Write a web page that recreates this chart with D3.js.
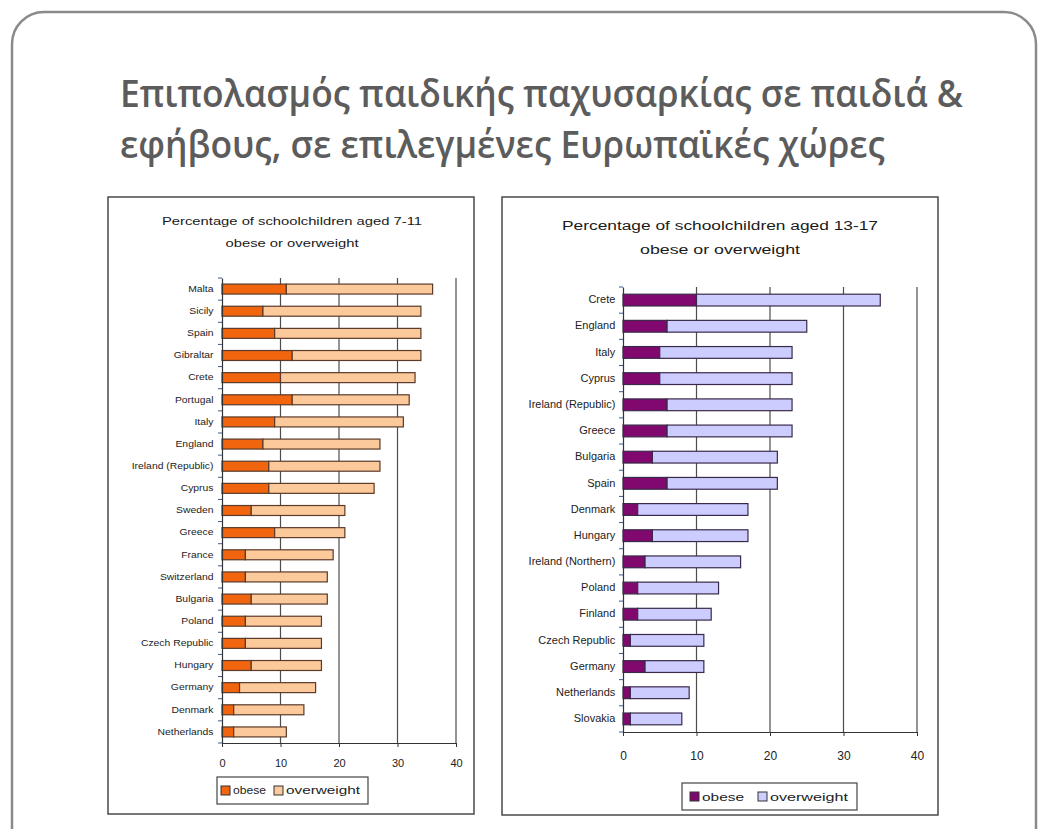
<!DOCTYPE html>
<html>
<head>
<meta charset="utf-8">
<script src="https://cdn.jsdelivr.net/npm/d3@7"></script>
<style>
  html, body { margin: 0; padding: 0; background: #ffffff; }
  svg { display: block; }
</style>
</head>
<body>
<svg id="slide" width="1041" height="829"></svg>
<script>
// Children aged 7-11
const youngCountries = ["Malta", "Sicily", "Spain", "Gibraltar", "Crete", "Portugal", "Italy", "England",
  "Ireland (Republic)", "Cyprus", "Sweden", "Greece", "France", "Switzerland", "Bulgaria", "Poland",
  "Czech Republic", "Hungary", "Germany", "Denmark", "Netherlands"];
const youngObese =      [11, 7, 9, 12, 10, 12, 9, 7, 8, 8, 5, 9, 4, 4, 5, 4, 4, 5, 3, 2, 2];
const youngOverweight = [25, 27, 25, 22, 23, 20, 22, 20, 19, 18, 16, 12, 15, 14, 13, 13, 13, 12, 13, 12, 9];

// Adolescents aged 13-17
const teenCountries = ["Crete", "England", "Italy", "Cyprus", "Ireland (Republic)", "Greece", "Bulgaria",
  "Spain", "Denmark", "Hungary", "Ireland (Northern)", "Poland", "Finland", "Czech Republic", "Germany",
  "Netherlands", "Slovakia"];
const teenObese =      [10, 6, 5, 5, 6, 6, 4, 6, 2, 4, 3, 2, 2, 1, 3, 1, 1];
const teenOverweight = [25, 19, 18, 18, 17, 17, 17, 15, 15, 13, 13, 11, 10, 10, 8, 8, 7];

const xTicks = [0, 10, 20, 30, 40];
const seriesKeys = ["obese", "overweight"];
const legendLabels = ["obese", "overweight"];

const titleLines = ["Επιπολασμός παιδικής παχυσαρκίας σε παιδιά &",
                    "εφήβους, σε επιλεγμένες Ευρωπαϊκές χώρες"];
const youngTitle = ["Percentage of schoolchildren aged 7-11", "obese or overweight"];
const teenTitle = ["Percentage of schoolchildren aged 13-17", "obese or overweight"];

const svg = d3.select("#slide");
const sans = "'Liberation Sans', Arial, sans-serif";

// slide frame with rounded corners
svg.append("rect")
  .attr("x", 12).attr("y", 12).attr("width", 1024).attr("height", 860)
  .attr("rx", 32).attr("ry", 32)
  .attr("fill", "#ffffff").attr("stroke", "#8a8a8a").attr("stroke-width", 2.5);

// slide heading
svg.selectAll("text.heading")
  .data(titleLines)
  .join("text")
  .attr("class", "heading")
  .attr("x", 120)
  .attr("y", (d, i) => 107 + i * 51)
  .attr("textLength", (d, i) => i === 0 ? 843 : 765)
  .attr("lengthAdjust", "spacingAndGlyphs")
  .attr("font-family", "'Open Sans', 'Noto Sans', sans-serif")
  .attr("font-size", 37.5)
  .attr("font-weight", 600)
  .attr("fill", "#5c5c5c")
  .text(d => d);

function drawChart(cfg) {
  const g = svg.append("g");

  // chart frame
  g.append("rect")
    .attr("x", cfg.box.x).attr("y", cfg.box.y)
    .attr("width", cfg.box.w).attr("height", cfg.box.h)
    .attr("fill", "#ffffff").attr("stroke", "#4a4a4a").attr("stroke-width", 1.5);

  // chart title
  g.selectAll("text.ctitle")
    .data(cfg.title)
    .join("text")
    .attr("class", "ctitle")
    .attr("x", cfg.titleX)
    .attr("y", (d, i) => cfg.titleY[i])
    .attr("text-anchor", "middle")
    .attr("textLength", (d, i) => cfg.titleLen[i])
    .attr("lengthAdjust", "spacingAndGlyphs")
    .attr("font-family", sans)
    .attr("font-size", cfg.titleSize)
    .attr("fill", "#1a1a1a")
    .text(d => d);

  const x = d3.scaleLinear().domain([0, 40]).range([cfg.plot.x0, cfg.plot.x1]);
  const y = d3.scaleBand().domain(cfg.cats).range([cfg.plot.top, cfg.plot.bottom])
    .paddingInner(0.55).paddingOuter(0.275);

  // vertical gridlines
  g.selectAll("line.grid")
    .data(xTicks.slice(1))
    .join("line")
    .attr("class", "grid")
    .attr("x1", d => x(d)).attr("x2", d => x(d))
    .attr("y1", cfg.plot.top).attr("y2", cfg.plot.bottom)
    .attr("stroke", "#4d4d4d").attr("stroke-width", 1.2);

  // stacked bars
  const rows = cfg.cats.map((c, i) => ({ country: c, obese: cfg.obese[i], overweight: cfg.overweight[i] }));
  const stacked = d3.stack().keys(seriesKeys)(rows);
  g.selectAll("g.series")
    .data(stacked)
    .join("g")
    .attr("class", "series")
    .attr("fill", d => cfg.colors[d.key])
    .selectAll("rect")
    .data(d => d)
    .join("rect")
    .attr("x", d => x(d[0]))
    .attr("y", d => y(d.data.country))
    .attr("width", d => x(d[1]) - x(d[0]))
    .attr("height", y.bandwidth())
    .attr("stroke", cfg.barStroke)
    .attr("stroke-width", 1.2);

  // category axis
  const yAxis = g.append("g")
    .attr("transform", `translate(${cfg.plot.x0},0)`)
    .call(d3.axisLeft(y).tickSize(0).tickPadding(7));
  yAxis.select(".domain").attr("stroke", "#333").attr("stroke-width", 1.2);
  yAxis.selectAll(".tick text")
    .attr("font-family", sans)
    .attr("font-size", cfg.catSize)
    .attr("fill", "#222")
    .attr("transform", `scale(${cfg.catStretch},1)`);
  // small ticks between categories
  const step = y.step();
  g.selectAll("line.ctick")
    .data(d3.range(cfg.cats.length + 1))
    .join("line")
    .attr("class", "ctick")
    .attr("x1", cfg.plot.x0 - 4).attr("x2", cfg.plot.x0)
    .attr("y1", i => cfg.plot.top + i * step)
    .attr("y2", i => cfg.plot.top + i * step)
    .attr("stroke", "#3d5a8a").attr("stroke-width", 1);

  // value axis
  const xAxis = g.append("g")
    .attr("transform", `translate(0,${cfg.plot.bottom})`)
    .call(d3.axisBottom(x).tickValues(xTicks).tickSize(4).tickPadding(cfg.tickPad).tickSizeOuter(0));
  xAxis.select(".domain").attr("stroke", "#333").attr("stroke-width", 1.2);
  xAxis.selectAll(".tick line").attr("stroke", "#333");
  xAxis.selectAll(".tick text")
    .attr("font-family", sans)
    .attr("font-size", cfg.tickSize)
    .attr("fill", "#222");

  // legend
  const lg = g.append("g").attr("transform", `translate(${cfg.legend.x},${cfg.legend.y})`);
  lg.append("rect")
    .attr("width", cfg.legend.w).attr("height", cfg.legend.h)
    .attr("fill", "#ffffff").attr("stroke", "#444").attr("stroke-width", 1.2);
  const items = lg.selectAll("g.item")
    .data(seriesKeys)
    .join("g")
    .attr("class", "item")
    .attr("transform", (d, i) => `translate(${cfg.legend.itemX[i]},${cfg.legend.h / 2})`);
  items.append("rect")
    .attr("x", 0).attr("y", -cfg.legend.sw / 2)
    .attr("width", cfg.legend.sw).attr("height", cfg.legend.sw)
    .attr("fill", d => cfg.colors[d]).attr("stroke", "#333").attr("stroke-width", 1);
  items.append("text")
    .attr("x", cfg.legend.sw + 3)
    .attr("dy", "0.35em")
    .attr("font-family", sans)
    .attr("font-size", cfg.legend.fs)
    .attr("fill", "#222")
    .attr("textLength", (d, i) => cfg.legend.textLen[i])
    .attr("lengthAdjust", "spacingAndGlyphs")
    .text((d, i) => legendLabels[i]);
}

drawChart({
  cats: youngCountries, obese: youngObese, overweight: youngOverweight,
  colors: { obese: "#f0650e", overweight: "#fcc99a" },
  barStroke: "#5a3a2a",
  box: { x: 108, y: 197, w: 366, h: 617 },
  title: youngTitle, titleX: 292, titleY: [225, 247], titleLen: [260, 133], titleSize: 10,
  plot: { x0: 222, x1: 456, top: 278, bottom: 743 },
  catSize: 8.5, catStretch: 1.22,
  tickSize: 11, tickPad: 12,
  legend: { x: 217, y: 777, w: 151, h: 27, sw: 9, fs: 10.5, itemX: [4, 57], textLen: [33, 74] }
});

drawChart({
  cats: teenCountries, obese: teenObese, overweight: teenOverweight,
  colors: { obese: "#80086e", overweight: "#ccccff" },
  barStroke: "#3a2a4a",
  box: { x: 502, y: 197, w: 436, h: 618 },
  title: teenTitle, titleX: 720, titleY: [230, 254], titleLen: [316, 160], titleSize: 12,
  plot: { x0: 623, x1: 917, top: 287, bottom: 732 },
  catSize: 10, catStretch: 1.1,
  tickSize: 12, tickPad: 15,
  legend: { x: 682, y: 783, w: 175, h: 27, sw: 9, fs: 11.5, itemX: [8, 76], textLen: [42, 78] }
});
</script>
</body>
</html>
